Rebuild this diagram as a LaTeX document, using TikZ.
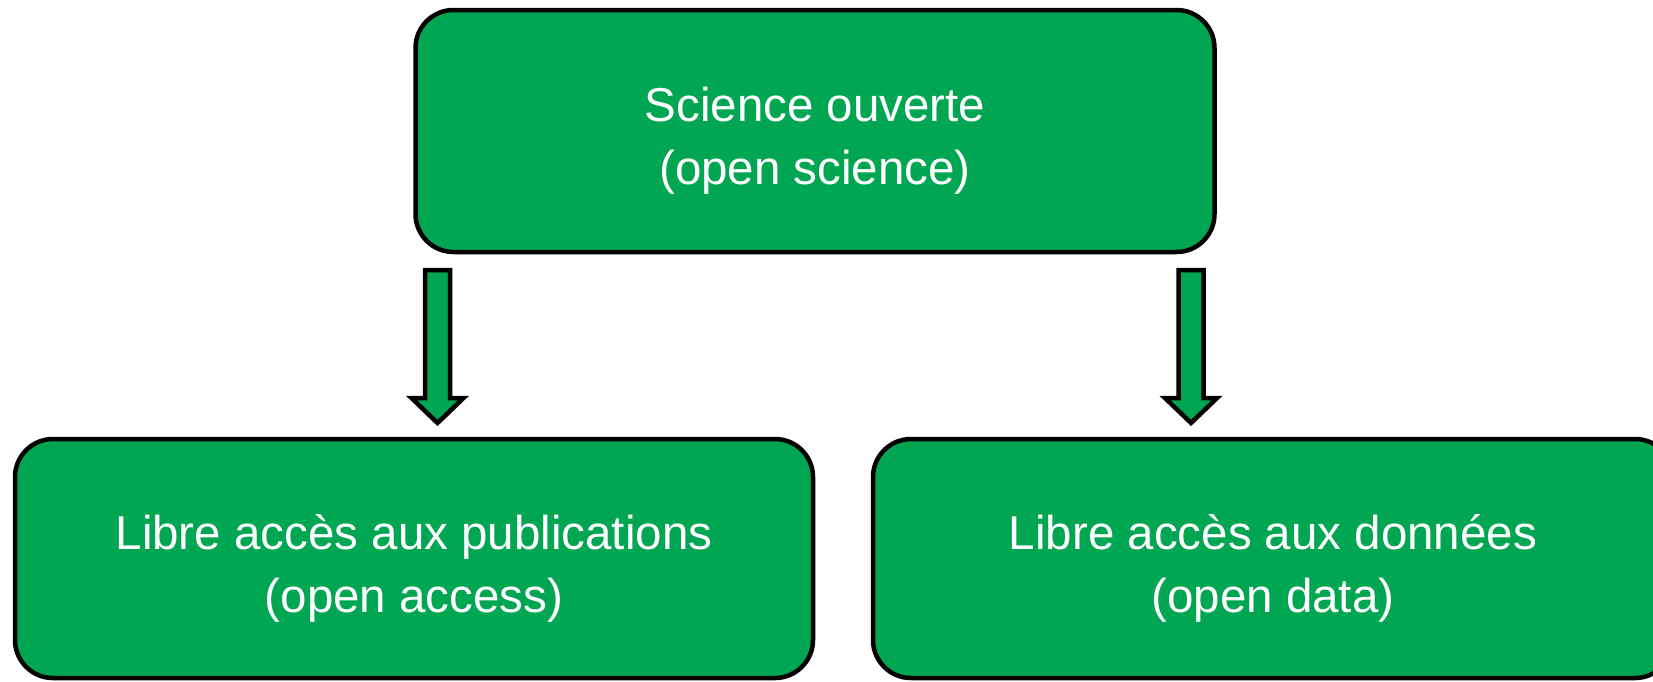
\documentclass[tikz,border=0pt]{standalone}
\usepackage{fontspec}
\setmainfont{Liberation Sans}
\usetikzlibrary{calc}
\definecolor{boxgreen}{RGB}{0,166,81}
\begin{document}
\begin{tikzpicture}[x=1pt,y=-1pt,
  box/.style={draw=black, line width=4.5pt, fill=boxgreen, rounded corners=38pt, inner sep=0pt},
  lbl/.style={text=white, font=\fontsize{47.5}{63}\selectfont, align=center, inner sep=0pt},
  blockarrow/.style={draw=black, line width=4.5pt, fill=boxgreen, line join=miter}]
\useasboundingbox (0,0) rectangle (1653,681);
\node[box, minimum width=799pt, minimum height=242pt] (top) at (815,131) {};
\node[box, minimum width=798pt, minimum height=239pt] (left) at (414,558.5) {};
\node[box, minimum width=800pt, minimum height=239pt] (right) at (1273,558.5) {};
\node[lbl] (toptext) at ([yshift=-10pt]top.center) {Science ouverte\\(open science)};
\node[lbl] (lefttext) at ([yshift=-10pt]left.center) {Libre accès aux publications\\(open access)};
\node[lbl] (righttext) at ([yshift=-10pt]right.center) {Libre accès aux données\\(open data)};
\coordinate (a1) at (437.5,270);
\coordinate (a2) at (1191,270);
\foreach \a in {a1,a2}{
  \draw[blockarrow] ($(\a)+(-12.5,0)$) -- ($(\a)+(12.5,0)$) -- ($(\a)+(12.5,128)$) -- ($(\a)+(26,128)$)
    -- ($(\a)+(0,153)$) -- ($(\a)+(-26,128)$) -- ($(\a)+(-12.5,128)$) -- cycle;
}
\end{tikzpicture}
\end{document}
